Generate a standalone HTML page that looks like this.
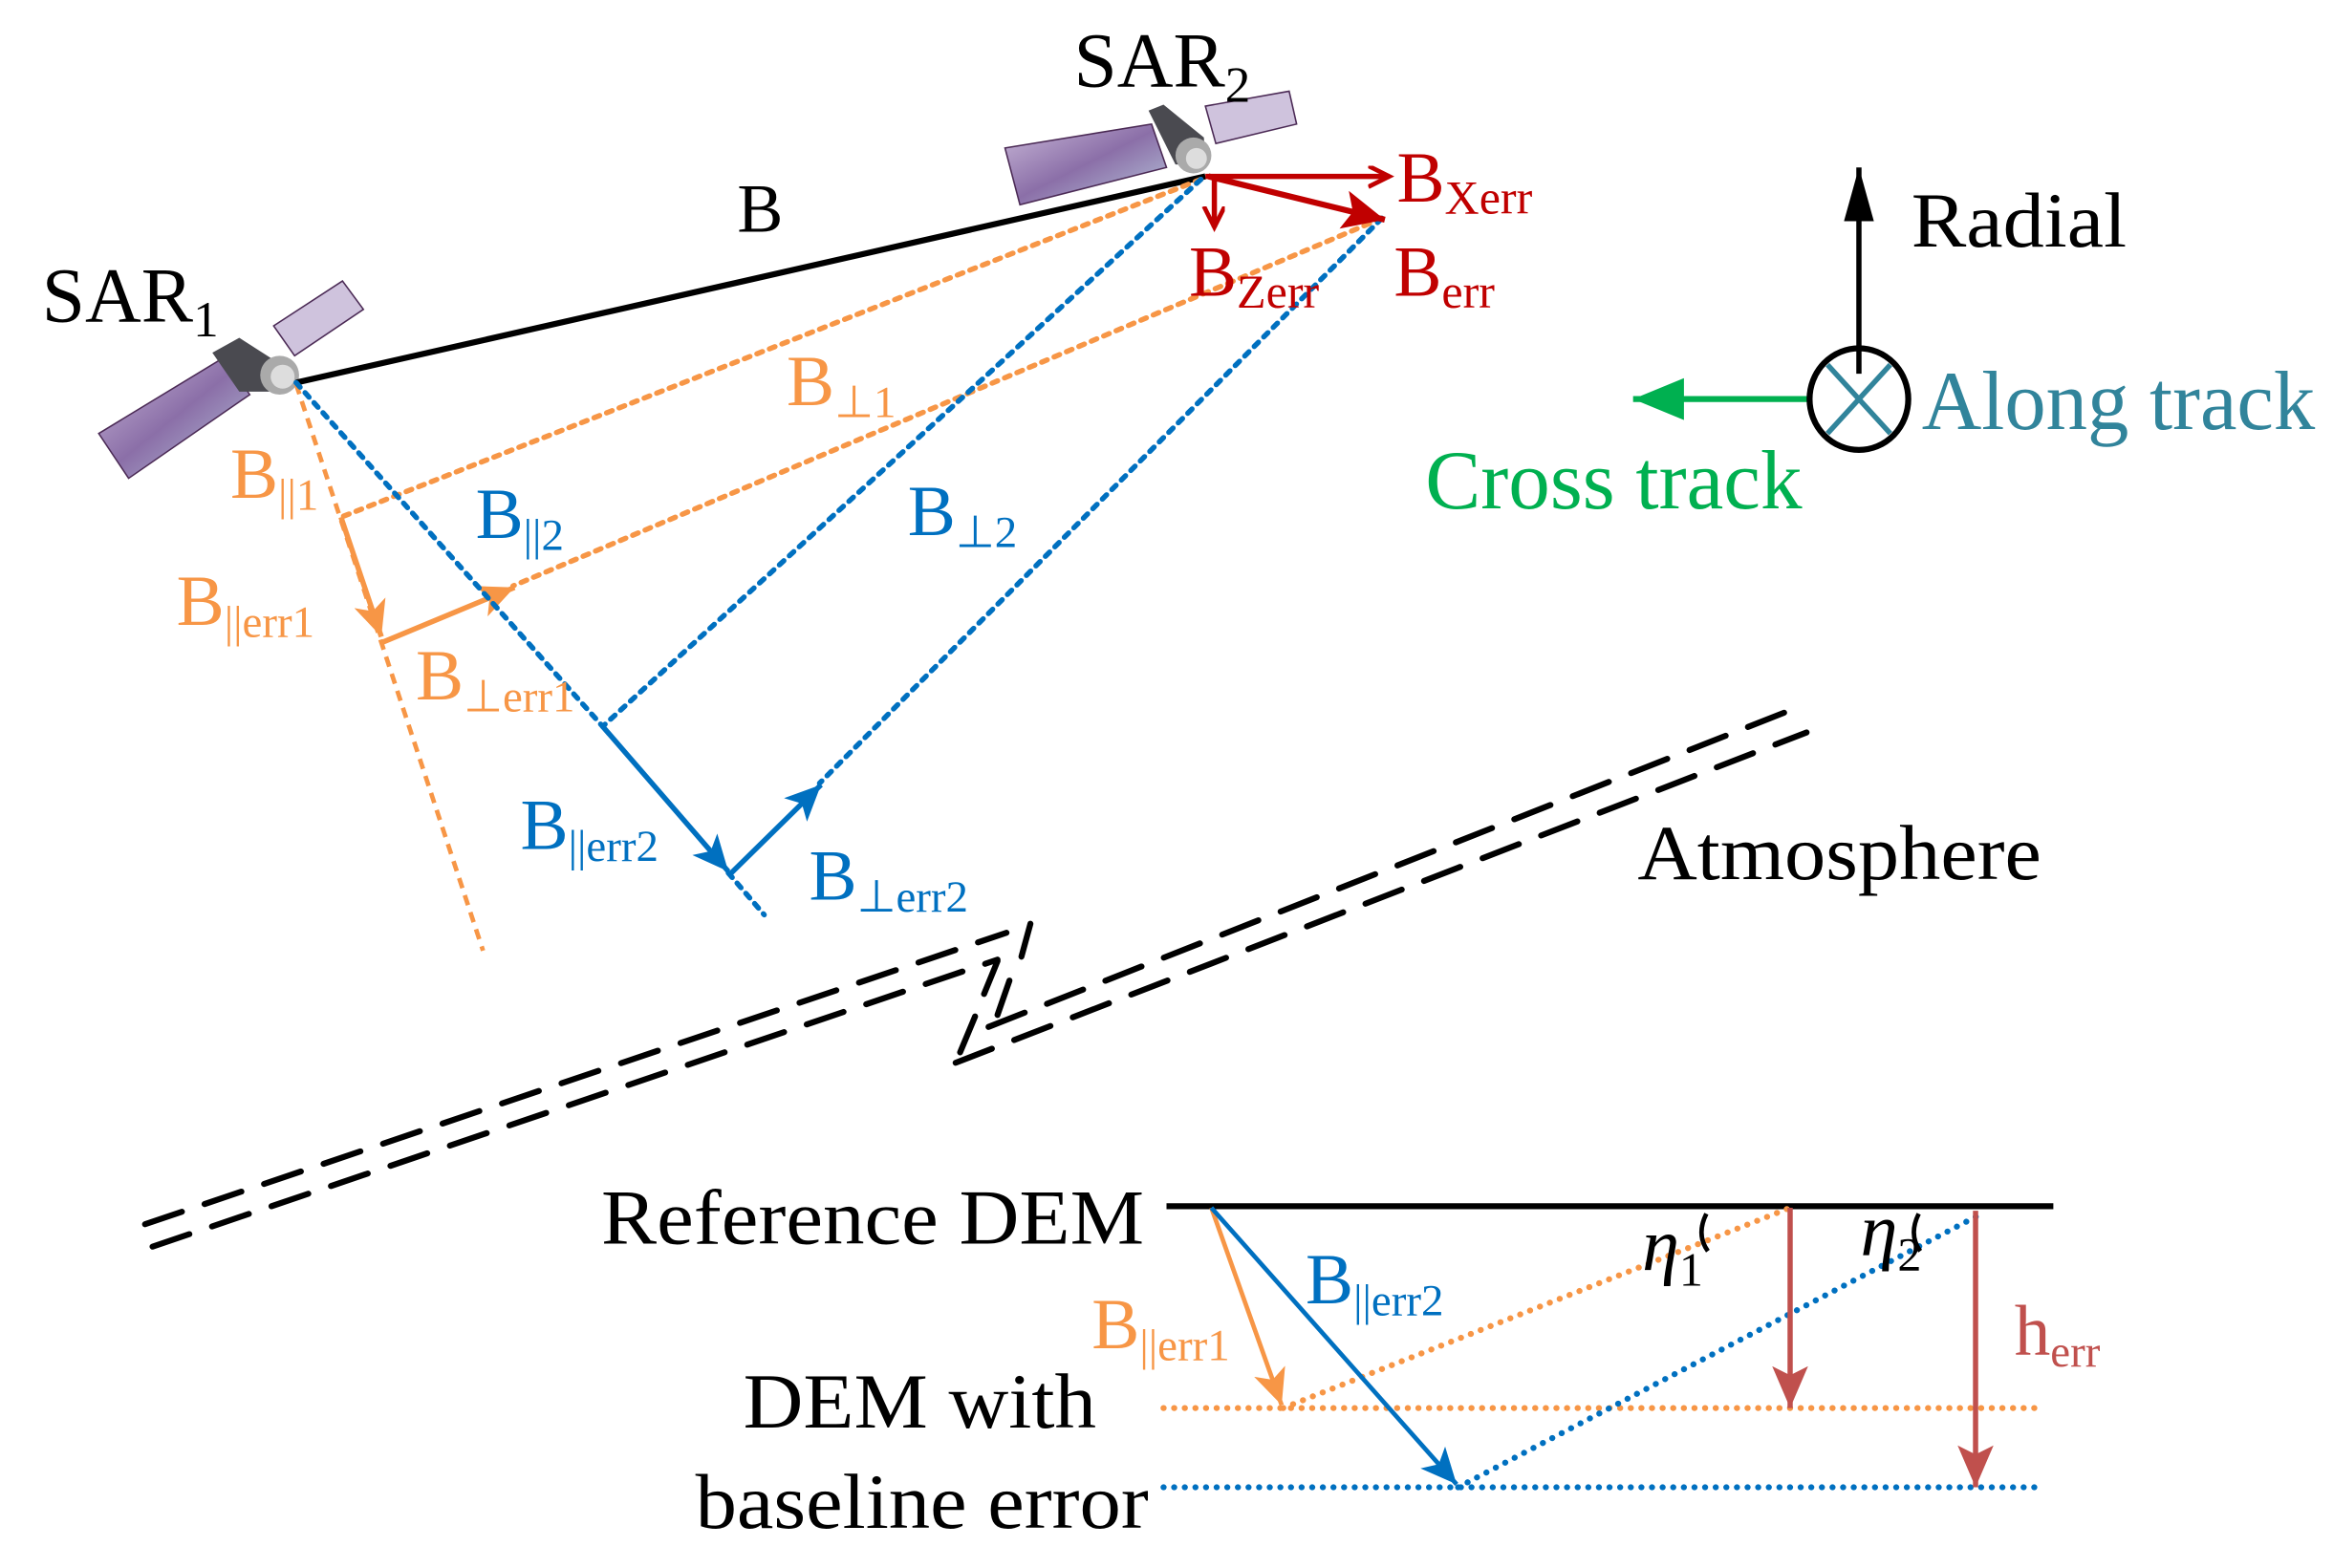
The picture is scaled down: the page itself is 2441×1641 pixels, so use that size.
<!DOCTYPE html>
<html><head><meta charset="utf-8"><style>
html,body{margin:0;padding:0;background:#fff}
svg{display:block}
svg text{font-family:"Liberation Serif","Times New Roman",serif}
</style></head><body>
<svg width="2441" height="1641" viewBox="0 0 1560 1049" preserveAspectRatio="none" xmlns="http://www.w3.org/2000/svg" font-family="'Liberation Serif','Times New Roman',serif">
<defs>
<marker id="mo" markerUnits="userSpaceOnUse" markerWidth="30" markerHeight="30" refX="24" refY="11" orient="auto"><path d="M0,0 L24,11 L0,22 L6,11 Z" fill="#f79646"/></marker>
<marker id="mb" markerUnits="userSpaceOnUse" markerWidth="30" markerHeight="30" refX="24" refY="11" orient="auto"><path d="M0,0 L24,11 L0,22 L6,11 Z" fill="#0070c0"/></marker>
<marker id="mr" markerUnits="userSpaceOnUse" markerWidth="24" markerHeight="24" refX="14" refY="7" orient="auto"><path d="M0,0 L14,7 L0,14" fill="none" stroke="#c00000" stroke-width="3"/></marker>
<marker id="mr2" markerUnits="userSpaceOnUse" markerWidth="34" markerHeight="34" refX="28" refY="13" orient="auto"><path d="M0,0 L28,13 L0,26 L6,13 Z" fill="#c00000"/></marker>
<marker id="mh" markerUnits="userSpaceOnUse" markerWidth="34" markerHeight="34" refX="28" refY="12" orient="auto"><path d="M0,0 L28,12 L0,24 L6,12 Z" fill="#c0504d"/></marker>
<marker id="mk" markerUnits="userSpaceOnUse" markerWidth="40" markerHeight="40" refX="36" refY="10" orient="auto"><path d="M0,0 L36,10 L0,20 Z" fill="#000"/></marker>
<marker id="mg" markerUnits="userSpaceOnUse" markerWidth="40" markerHeight="40" refX="34" refY="14" orient="auto"><path d="M0,0 L34,14 L0,28 Z" fill="#00b050"/></marker>
<linearGradient id="pg" x1="0" y1="0" x2="1" y2="1"><stop offset="0" stop-color="#c9b8d8"/><stop offset="0.5" stop-color="#8b6fa8"/><stop offset="1" stop-color="#b8c8dc"/></linearGradient>
</defs>

<polygon points="66,290 150,239 167,264 86,320" fill="url(#pg)" stroke="#4b2a55" stroke-width="1"/>
<polygon points="183,218 229,188 243,207 197,238" fill="#cfc3dd" stroke="#4b2a55" stroke-width="1"/>
<polygon points="142,236 160,226 185,242 180,262 160,262" fill="#4a4a50"/>
<circle cx="187" cy="251" r="13" fill="#aaa"/><circle cx="189" cy="252" r="8" fill="#ddd"/>
<polygon points="672,99 770,83 780,112 682,137" fill="url(#pg)" stroke="#4b2a55" stroke-width="1"/>
<polygon points="806,71 862,61 867,83 813,96" fill="#cfc3dd" stroke="#4b2a55" stroke-width="1"/>
<polygon points="768,74 778,70 805,92 806,110 786,110" fill="#4a4a50"/>
<circle cx="798" cy="104" r="12" fill="#aaa"/><circle cx="800" cy="106" r="7" fill="#ddd"/>

<line x1="198" y1="256" x2="806" y2="118" stroke="#000" stroke-width="4"/>

<g stroke="#f79646" stroke-width="3.5" stroke-dasharray="4 5" stroke-linecap="round" fill="none">
<line x1="803" y1="120" x2="228" y2="346"/>
<line x1="924" y1="146" x2="343" y2="392"/>
</g>
<line x1="198" y1="257" x2="323" y2="636" stroke="#f79646" stroke-width="3" stroke-dasharray="7 5"/>
<line x1="228" y1="346" x2="255" y2="426" stroke="#f79646" stroke-width="3.5" marker-end="url(#mo)"/>
<line x1="255" y1="430" x2="344" y2="393" stroke="#f79646" stroke-width="3.5" marker-end="url(#mo)"/>

<g stroke="#0070c0" stroke-width="3.5" stroke-dasharray="4 5" stroke-linecap="round" fill="none">
<line x1="198" y1="256" x2="403" y2="486"/>
<line x1="803" y1="120" x2="403" y2="486"/>
<line x1="924" y1="146" x2="548" y2="524"/>
<line x1="487" y1="584" x2="511" y2="612"/>
</g>
<line x1="403" y1="486" x2="487" y2="583" stroke="#0070c0" stroke-width="3.5" marker-end="url(#mb)"/>
<line x1="489" y1="584" x2="549" y2="525" stroke="#0070c0" stroke-width="3.5" marker-end="url(#mb)"/>

<line x1="806" y1="118" x2="929" y2="118" stroke="#c00000" stroke-width="3.5" marker-end="url(#mr)"/>
<line x1="812" y1="118" x2="812" y2="152" stroke="#c00000" stroke-width="3.5" marker-end="url(#mr)"/>
<line x1="808" y1="118" x2="926" y2="147" stroke="#c00000" stroke-width="4" marker-end="url(#mr2)"/>

<g stroke="#000" stroke-width="4" stroke-dasharray="26 16" stroke-linecap="round" fill="none">
<line x1="97" y1="819" x2="673" y2="624"/>
<line x1="102" y1="834" x2="667" y2="642"/>
<line x1="661" y1="687" x2="1195" y2="476"/>
<line x1="639" y1="711" x2="1208" y2="490"/>
</g>
<g stroke="#000" stroke-width="4" stroke-linecap="round">
<line x1="689" y1="618" x2="683" y2="640"/>
<line x1="667" y1="643" x2="658" y2="665"/>
<line x1="675" y1="656" x2="667" y2="679"/>
<line x1="652" y1="680" x2="642" y2="704"/>
</g>

<line x1="1243" y1="250" x2="1243" y2="112" stroke="#000" stroke-width="3.5" marker-end="url(#mk)"/>
<line x1="1210" y1="267" x2="1092" y2="267" stroke="#00b050" stroke-width="4" marker-end="url(#mg)"/>
<line x1="1222" y1="244" x2="1264" y2="290" stroke="#31849b" stroke-width="3.5"/>
<line x1="1264" y1="244" x2="1222" y2="290" stroke="#31849b" stroke-width="3.5"/>
<ellipse cx="1243" cy="267" rx="33" ry="34" fill="none" stroke="#000" stroke-width="4"/>

<line x1="780" y1="807" x2="1373" y2="807" stroke="#000" stroke-width="4"/>
<g stroke-width="4" stroke-dasharray="0.1 7" stroke-linecap="round" fill="none">
<line x1="778" y1="942" x2="1362" y2="942" stroke="#f79646"/>
<line x1="778" y1="995" x2="1362" y2="995" stroke="#0070c0"/>
<line x1="858" y1="942" x2="1197" y2="808" stroke="#f79646"/>
<line x1="975" y1="995" x2="1325" y2="812" stroke="#0070c0"/>
</g>
<line x1="810" y1="808" x2="857" y2="940" stroke="#f79646" stroke-width="3" marker-end="url(#mo)"/>
<line x1="810" y1="808" x2="974" y2="993" stroke="#0070c0" stroke-width="3" marker-end="url(#mb)"/>
<line x1="1197" y1="808" x2="1197" y2="942" stroke="#c0504d" stroke-width="3.5" marker-end="url(#mh)"/>
<line x1="1321" y1="810" x2="1321" y2="995" stroke="#c0504d" stroke-width="3.5" marker-end="url(#mh)"/>
<path d="M1141,812 Q1134,826 1142,837" fill="none" stroke="#000" stroke-width="3"/>
<path d="M1283,812 Q1276,826 1284,837" fill="none" stroke="#000" stroke-width="3"/>

<g font-size="52" fill="#000">
<text x="28" y="215">SAR<tspan font-size="34" dy="10">1</tspan></text>
<text x="718" y="58">SAR<tspan font-size="34" dy="10">2</tspan></text>
<text x="493" y="155" font-size="46">B</text>
<text x="1278" y="165" textLength="144" lengthAdjust="spacingAndGlyphs">Radial</text>
<text x="1095" y="588" textLength="270" lengthAdjust="spacingAndGlyphs">Atmosphere</text>
<text x="402" y="832" textLength="363" lengthAdjust="spacingAndGlyphs">Reference DEM</text>
<text x="497" y="955" textLength="236" lengthAdjust="spacingAndGlyphs">DEM with</text>
<text x="465" y="1022" textLength="303" lengthAdjust="spacingAndGlyphs">baseline error</text>
<text x="1098" y="850" font-style="italic" font-size="50">η<tspan font-size="32" font-style="normal" dy="10">1</tspan></text>
<text x="1244" y="840" font-style="italic" font-size="50">η<tspan font-size="32" font-style="normal" dy="10">2</tspan></text>
</g>
<text x="1285" y="287" font-size="56" fill="#31849b" textLength="263" lengthAdjust="spacingAndGlyphs">Along track</text>
<text x="953" y="340" font-size="56" fill="#00b050" textLength="252" lengthAdjust="spacingAndGlyphs">Cross track</text>

<g font-size="48" fill="#c00000">
<text x="934" y="135">B<tspan font-size="32" dy="8">Xerr</tspan></text>
<text x="795" y="198">B<tspan font-size="32" dy="8">Zerr</tspan></text>
<text x="932" y="198">B<tspan font-size="32" dy="8">err</tspan></text>
</g>
<g font-size="48" fill="#f79646">
<text x="154" y="333">B<tspan font-size="30" dy="8">||1</tspan></text>
<text x="526" y="271">B<tspan font-size="30" dy="8">⊥1</tspan></text>
<text x="118" y="418">B<tspan font-size="30" dy="8">||err1</tspan></text>
<text x="278" y="468">B<tspan font-size="30" dy="8">⊥err1</tspan></text>
<text x="730" y="902">B<tspan font-size="30" dy="8">||err1</tspan></text>
</g>
<g font-size="48" fill="#0070c0">
<text x="318" y="360">B<tspan font-size="30" dy="8">||2</tspan></text>
<text x="607" y="358">B<tspan font-size="30" dy="8">⊥2</tspan></text>
<text x="348" y="568">B<tspan font-size="30" dy="8">||err2</tspan></text>
<text x="541" y="602">B<tspan font-size="30" dy="8">⊥err2</tspan></text>
<text x="873" y="872">B<tspan font-size="30" dy="8">||err2</tspan></text>
</g>
<text x="1347" y="906" font-size="48" fill="#c0504d">h<tspan font-size="30" dy="8">err</tspan></text>
</svg>
</body></html>
